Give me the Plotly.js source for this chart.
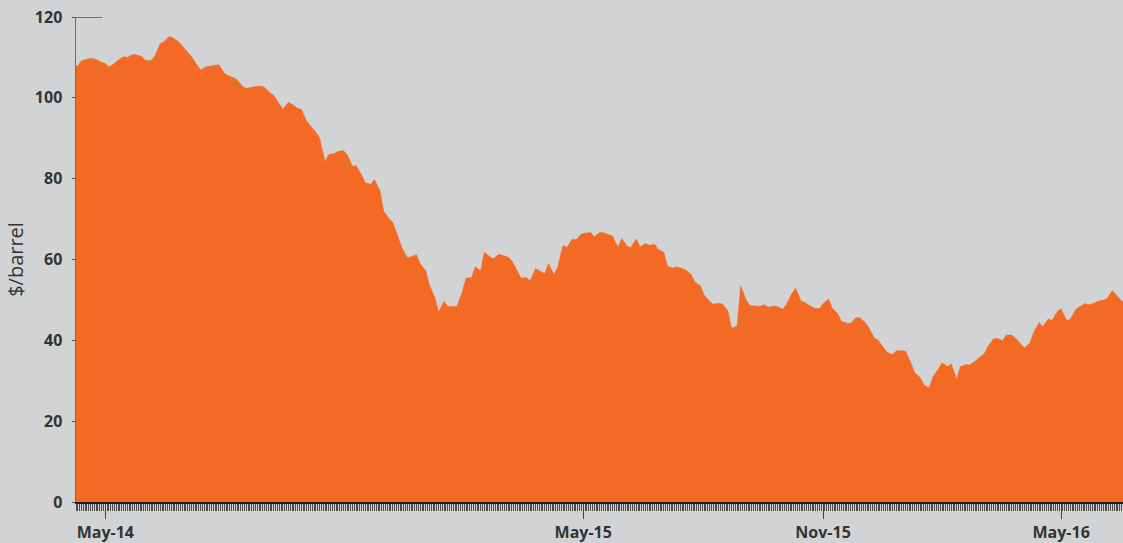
<!DOCTYPE html>
<html>
<head>
<meta charset="utf-8">
<script src="https://cdn.plot.ly/plotly-3.0.1.min.js"></script>
<style>
  html, body { margin: 0; padding: 0; background: #d1d3d4; }
  #chart { width: 1123px; height: 543px; }
</style>
</head>
<body>
<div id="chart"></div>
<script>
// Brent crude, $/barrel (twice-weekly samples)
const dates2014 = [
  "2014-04-09","2014-04-10","2014-04-14","2014-04-17","2014-04-21","2014-04-24","2014-04-28",
  "2014-05-01","2014-05-05","2014-05-08","2014-05-12","2014-05-15","2014-05-19","2014-05-22","2014-05-26","2014-05-29",
  "2014-06-02","2014-06-05","2014-06-09","2014-06-12","2014-06-16","2014-06-19","2014-06-23","2014-06-26","2014-06-30",
  "2014-07-03","2014-07-07","2014-07-10","2014-07-14","2014-07-17","2014-07-21","2014-07-24","2014-07-28","2014-07-31",
  "2014-08-04","2014-08-07","2014-08-11","2014-08-14","2014-08-18","2014-08-21","2014-08-25","2014-08-28",
  "2014-09-01","2014-09-04","2014-09-08","2014-09-11","2014-09-15","2014-09-18","2014-09-22","2014-09-25","2014-09-29",
  "2014-10-02","2014-10-06","2014-10-09","2014-10-13","2014-10-16","2014-10-20","2014-10-23","2014-10-27","2014-10-30",
  "2014-11-03","2014-11-06","2014-11-10","2014-11-13","2014-11-17","2014-11-20","2014-11-24","2014-11-27",
  "2014-12-01","2014-12-04","2014-12-08","2014-12-11","2014-12-15","2014-12-18","2014-12-22","2014-12-25","2014-12-29"
];
const prices2014 = [
  107.9,107.9,109.2,109.6,109.8,109.5,109.0,
  108.5,107.6,108.5,109.3,110.2,110.0,110.7,110.6,110.2,
  109.3,109.2,110.3,113.4,113.9,115.2,114.8,113.9,112.8,
  111.3,110.2,108.2,106.9,107.7,107.8,108.1,108.2,106.1,
  105.5,105.0,104.5,102.8,102.3,102.6,102.8,102.9,
  102.6,101.2,100.6,98.5,97.2,98.9,98.4,97.4,97.2,
  94.2,93.1,91.5,90.1,84.2,86.0,86.2,86.7,87.0,
  86.0,83.1,83.2,80.9,79.0,78.6,79.8,77.0,
  72.0,70.1,69.2,65.5,62.9,60.4,60.8,61.2,58.9
];
const dates2015 = [
  "2015-01-01","2015-01-05","2015-01-08","2015-01-12","2015-01-15","2015-01-19","2015-01-22","2015-01-26","2015-01-29",
  "2015-02-02","2015-02-05","2015-02-09","2015-02-12","2015-02-16","2015-02-19","2015-02-23","2015-02-26",
  "2015-03-02","2015-03-05","2015-03-09","2015-03-12","2015-03-16","2015-03-19","2015-03-23","2015-03-26","2015-03-30",
  "2015-04-02","2015-04-06","2015-04-09","2015-04-13","2015-04-16","2015-04-20","2015-04-23","2015-04-27","2015-04-30",
  "2015-05-04","2015-05-07","2015-05-11","2015-05-14","2015-05-18","2015-05-21","2015-05-25","2015-05-28",
  "2015-06-01","2015-06-04","2015-06-08","2015-06-11","2015-06-15","2015-06-18","2015-06-22","2015-06-25","2015-06-29",
  "2015-07-02","2015-07-06","2015-07-09","2015-07-13","2015-07-16","2015-07-20","2015-07-23","2015-07-27","2015-07-30",
  "2015-08-03","2015-08-06","2015-08-10","2015-08-13","2015-08-17","2015-08-20","2015-08-24","2015-08-27","2015-08-31",
  "2015-09-03","2015-09-07","2015-09-10","2015-09-14","2015-09-17","2015-09-21","2015-09-24","2015-09-28",
  "2015-10-01","2015-10-05","2015-10-08","2015-10-12","2015-10-15","2015-10-19","2015-10-22","2015-10-26","2015-10-29",
  "2015-11-02","2015-11-05","2015-11-09","2015-11-12","2015-11-16","2015-11-19","2015-11-23","2015-11-26","2015-11-30",
  "2015-12-03","2015-12-07","2015-12-10","2015-12-14","2015-12-17","2015-12-21","2015-12-24","2015-12-28","2015-12-31"
];
const prices2015 = [
  57.2,53.6,50.6,47.0,49.6,48.4,48.5,48.4,52.0,
  55.4,55.5,58.2,57.2,61.8,60.7,60.2,61.3,
  61.0,60.6,59.7,57.2,55.4,55.5,54.7,57.8,57.3,
  56.5,59.0,56.3,58.0,63.5,63.0,65.0,64.9,66.3,
  66.5,66.7,65.6,66.7,66.6,66.1,65.8,63.0,
  65.2,63.3,63.0,65.1,63.1,64.0,63.5,63.8,62.5,
  61.8,58.3,57.9,58.2,57.8,57.4,56.3,54.4,53.5,
  51.3,49.7,48.9,49.2,49.0,47.3,43.0,43.5,53.5,
  50.0,48.6,48.5,48.4,48.8,48.2,48.5,48.4,
  47.7,48.9,51.6,52.9,49.7,49.4,48.5,48.0,47.8,
  49.1,50.2,48.0,46.6,44.7,44.2,44.2,45.6,45.6,
  44.4,43.1,40.5,40.1,38.2,37.0,36.5,37.4,37.4
];
const dates2016 = [
  "2016-01-04","2016-01-07","2016-01-11","2016-01-14","2016-01-18","2016-01-21","2016-01-25","2016-01-28",
  "2016-02-01","2016-02-04","2016-02-08","2016-02-11","2016-02-15","2016-02-18","2016-02-22","2016-02-25","2016-02-29",
  "2016-03-03","2016-03-07","2016-03-10","2016-03-14","2016-03-17","2016-03-21","2016-03-24","2016-03-28","2016-03-31",
  "2016-04-04","2016-04-07","2016-04-11","2016-04-14","2016-04-18","2016-04-21","2016-04-25","2016-04-28",
  "2016-05-02","2016-05-05","2016-05-09","2016-05-12","2016-05-16","2016-05-19","2016-05-23","2016-05-26","2016-05-30",
  "2016-06-02","2016-06-06","2016-06-09","2016-06-13","2016-06-16","2016-06-20"
];
const prices2016 = [
  37.3,34.4,32.0,30.8,29.0,28.2,31.0,33.0,
  34.4,33.5,34.2,30.4,33.5,34.0,33.9,34.8,35.5,
  36.7,38.5,40.3,40.5,39.9,41.3,41.3,40.6,39.2,
  38.1,39.4,42.0,44.4,43.4,45.3,44.9,47.2,
  47.8,44.9,45.2,47.6,48.3,49.1,48.8,49.2,49.7,
  49.9,50.3,52.3,51.2,49.8,48.8
];

const xTickVals = ["2014-05-01","2015-05-01","2015-11-02","2016-05-02"];
const xTickText = ["May-14","May-15","Nov-15","May-16"];
const yTickVals = [0,20,40,60,80,100,120];

const dates = dates2014.concat(dates2015, dates2016);
const prices = prices2014.concat(prices2015, prices2016);

const orange = "#f36a25";
const bg = "#d1d3d4";

const trace = {
  x: dates,
  y: prices,
  type: "scatter",
  mode: "lines",
  fill: "tozeroy",
  fillcolor: orange,
  line: { color: orange, width: 0.5, shape: "linear" },
  hoverinfo: "x+y"
};

const layout = {
  width: 1123,
  height: 543,
  paper_bgcolor: bg,
  plot_bgcolor: bg,
  margin: { l: 76, r: 0, t: 17, b: 41 },
  showlegend: false,
  font: { family: "Open Sans, sans-serif", color: "#333" },
  xaxis: {
    type: "date",
    range: ["2014-04-09", "2016-06-16 19:00"],
    rangebreaks: [{ bounds: ["sat", "mon"] }],
    tickmode: "array",
    tickvals: xTickVals,
    ticktext: xTickText,
    ticks: "outside",
    ticklen: 15,
    tickwidth: 1,
    tickcolor: "#444",
    tickfont: { family: "Open Sans, sans-serif", size: 16, color: "#333", weight: "bold" },
    minor: {
      tickmode: "linear",
      tick0: "2014-04-07",
      dtick: 86400000,
      ticks: "outside",
      ticklen: 7,
      tickwidth: 1,
      tickcolor: "#4a4a4a",
      showgrid: false
    },
    showline: true,
    linecolor: "#231f20",
    linewidth: 2,
    showgrid: false,
    zeroline: false,
    fixedrange: true
  },
  yaxis: {
    range: [0, 120],
    tickmode: "array",
    tickvals: yTickVals,
    ticks: "outside",
    ticklen: 3,
    tickwidth: 1,
    tickcolor: "#555",
    ticklabelstandoff: 6,
    tickfont: { family: "Open Sans, sans-serif", size: 16, color: "#333", weight: "bold" },
    showline: true,
    linecolor: "#6d6e71",
    linewidth: 1.5,
    showgrid: false,
    zeroline: false,
    title: { text: "$/barrel", font: { family: "Open Sans, sans-serif", size: 20, color: "#333" }, standoff: 6 },
    fixedrange: true
  },
  shapes: [
    { type: "line", xref: "paper", yref: "y", x0: 0, x1: 0.025, y0: 120, y1: 120,
      line: { color: "#555", width: 1.5 } }
  ]
};

Plotly.newPlot("chart", [trace], layout, { displayModeBar: false, staticPlot: true });
</script>
</body>
</html>
